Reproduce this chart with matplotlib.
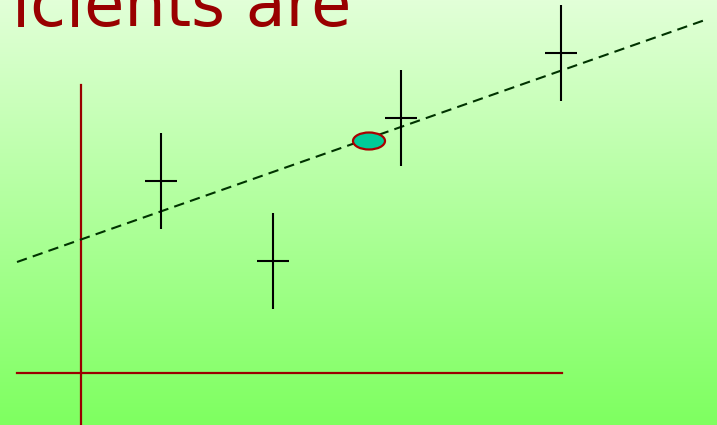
import numpy as np
import matplotlib.pyplot as plt
from matplotlib.patches import Ellipse

# data in picture pixels (x right, y down)
pt_x = [161, 273, 401, 561]
pt_y = [181, 261, 118, 53]
pt_yerr = [48, 48, 48, 48]
pt_xerr = [16, 16, 16, 16]
fit_x = [17, 705]
fit_y = [262, 20]
mean_xy = (369, 141)
title_text = "icients are"

W, H = 717, 425
fig = plt.figure(figsize=(W / 100, H / 100), dpi=100)
ax = fig.add_axes([0, 0, 1, 1])
ax.set_xlim(0, W)
ax.set_ylim(H, 0)
ax.axis("off")

# background gradient
top = np.array([226, 255, 216]) / 255.0
bot = np.array([126, 255, 96]) / 255.0
t = np.linspace(0, 1, 256)[:, None]
grad = (top[None, :] * (1 - t) + bot[None, :] * t)[:, None, :]
ax.imshow(grad, extent=[0, W, H, 0], aspect="auto", zorder=0)

# axes frame
red = "#990000"
ax.plot([81, 81], [85, 425], color=red, lw=1.6, zorder=2)
ax.plot([17, 562], [373, 373], color=red, lw=1.6, zorder=2)

# fit line
ax.plot(fit_x, fit_y, color="#003300", lw=1.5, ls=(0, (5, 3)), zorder=3)

# error crosses
ax.errorbar(pt_x, pt_y, yerr=pt_yerr, xerr=pt_xerr, fmt="none",
            ecolor="black", elinewidth=1.5, capsize=0, zorder=4)

# mean point
ax.add_patch(Ellipse(mean_xy, 32, 17, facecolor="#00cc99",
                     edgecolor="#aa0000", lw=1.6, zorder=5))

ax.text(12, 26, title_text, color=red, fontsize=47, family="DejaVu Sans",
        va="baseline", ha="left", zorder=6)

fig.savefig("out.png", dpi=100)
